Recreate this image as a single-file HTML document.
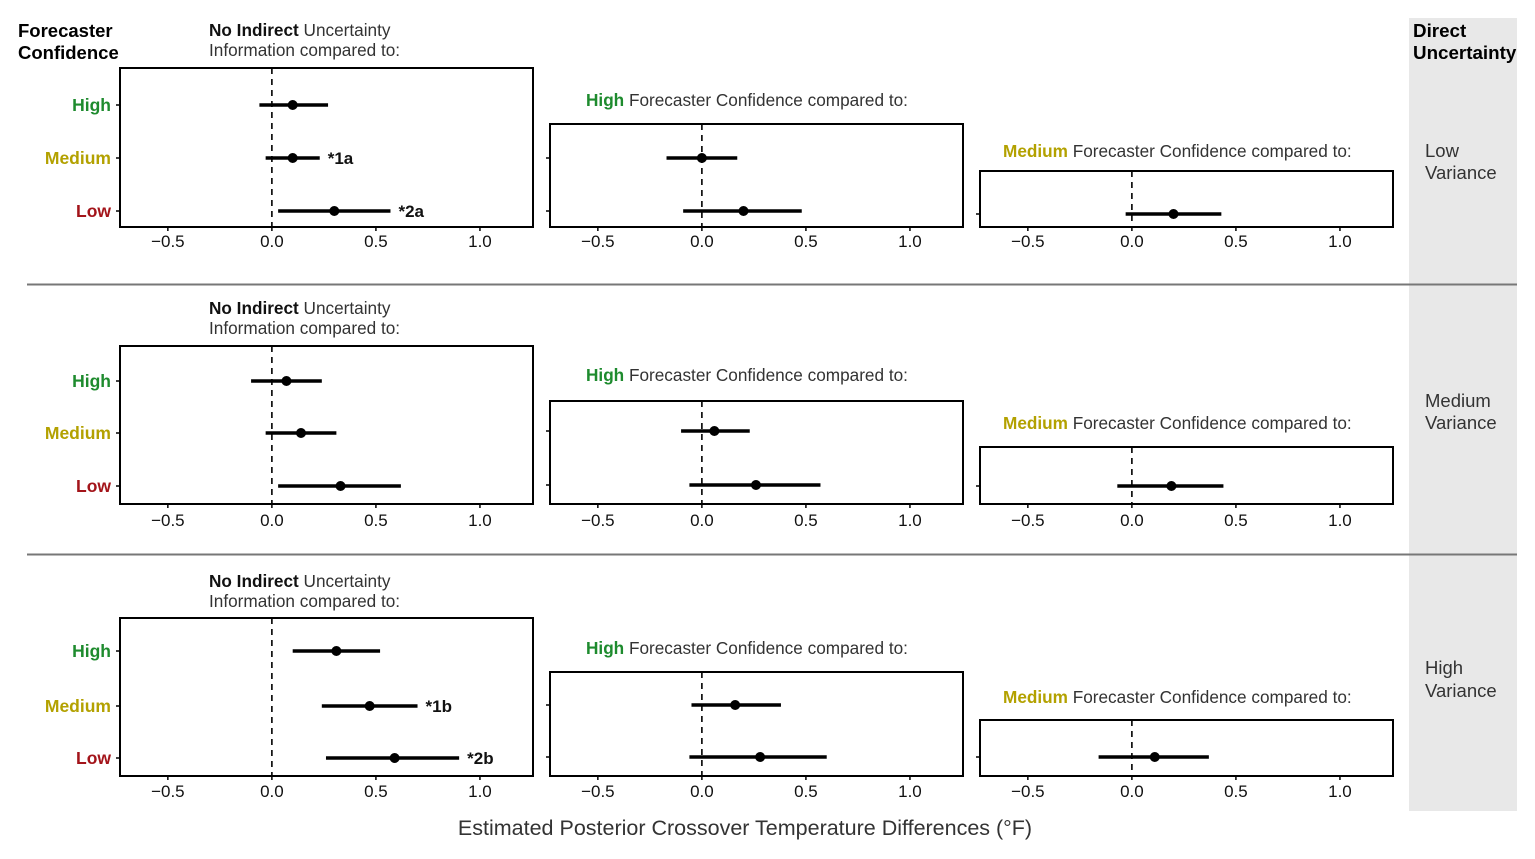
<!DOCTYPE html>
<html><head><meta charset="utf-8"><style>
body{margin:0;background:#fff;}
svg{display:block;font-family:"Liberation Sans",sans-serif;}
</style></head><body>
<svg id="chart" width="1535" height="859" viewBox="0 0 1535 859">
<rect x="1409" y="18" width="108" height="793" fill="#e8e8e8"/>
<line x1="27" y1="284.5" x2="1517" y2="284.5" stroke="#777" stroke-width="2"/>
<line x1="27" y1="554.5" x2="1517" y2="554.5" stroke="#777" stroke-width="2"/>
<text x="18" y="37" font-size="18.5" font-weight="bold">Forecaster</text>
<text x="18" y="59" font-size="18.5" font-weight="bold">Confidence</text>
<text x="1413" y="37" font-size="18.8" font-weight="bold">Direct</text>
<text x="1413" y="59" font-size="18.8" font-weight="bold">Uncertainty</text>
<text x="1425" y="157" font-size="18.5" fill="#333">Low</text>
<text x="1425" y="179" font-size="18.5" fill="#333">Variance</text>
<text x="1425" y="407" font-size="18.5" fill="#333">Medium</text>
<text x="1425" y="429" font-size="18.5" fill="#333">Variance</text>
<text x="1425" y="674" font-size="18.5" fill="#333">High</text>
<text x="1425" y="697" font-size="18.5" fill="#333">Variance</text>
<text x="745" y="835" font-size="21.5" fill="#333" text-anchor="middle">Estimated Posterior Crossover Temperature Differences (°F)</text>
</svg>
<script>
const ticks=[-0.5,0.0,0.5,1.0];
const tickLabels=["\u22120.5","0.0","0.5","1.0"];
const rowLabels=["High","Medium","Low"];
// estimates, lower, upper per panel (row-major: variance row, panel A/B/C)
const r1aEst=[0.10,0.10,0.30], r1aLo=[-0.06,-0.03,0.03], r1aHi=[0.27,0.23,0.57];
const r1bEst=[0.00,0.20], r1bLo=[-0.17,-0.09], r1bHi=[0.17,0.48];
const r1cEst=[0.20], r1cLo=[-0.03], r1cHi=[0.43];
const r2aEst=[0.07,0.14,0.33], r2aLo=[-0.10,-0.03,0.03], r2aHi=[0.24,0.31,0.62];
const r2bEst=[0.06,0.26], r2bLo=[-0.10,-0.06], r2bHi=[0.23,0.57];
const r2cEst=[0.19], r2cLo=[-0.07], r2cHi=[0.44];
const r3aEst=[0.31,0.47,0.59], r3aLo=[0.10,0.24,0.26], r3aHi=[0.52,0.70,0.90];
const r3bEst=[0.16,0.28], r3bLo=[-0.05,-0.06], r3bHi=[0.38,0.60];
const r3cEst=[0.11], r3cLo=[-0.16], r3cHi=[0.37];
const r1Notes=["","*1a","*2a"], r3Notes=["","*1b","*2b"];

const svg=document.getElementById('chart');
const NS="http://www.w3.org/2000/svg";
function mk(t,a){const e=document.createElementNS(NS,t);for(const k in a)e.setAttribute(k,a[k]);svg.appendChild(e);return e;}
const colors={High:"#1e8b2e",Medium:"#b3a100",Low:"#a3141a"};
const DMIN=-0.73,DMAX=1.255,W=413;

function panel(left,top,bottom,rowYs,est,lo,hi,labels,notes,tickY){
  const x=v=>left+(v-DMIN)/(DMAX-DMIN)*W;
  let e=mk('rect',{x:left,y:top,width:W,height:bottom-top,fill:'none',stroke:'#000','stroke-width':2});
  
  
  e=mk('line',{x1:x(0),y1:top,x2:x(0),y2:bottom,stroke:'#000','stroke-width':1.6,'stroke-dasharray':'6,5'});
  
  
  ticks.forEach((t,i)=>{
    let l=mk('line',{x1:x(t),y1:bottom,x2:x(t),y2:bottom+4,stroke:'#000','stroke-width':1.5});
    
    
    let tx=mk('text',{x:x(t),y:tickY,'font-size':17,'text-anchor':'middle',fill:'#111'});
    tx.textContent=tickLabels[i];
    
    
  });
  est.forEach((v,i)=>{
    const y=rowYs[i];
    let t=mk('line',{x1:left-4,y1:y,x2:left,y2:y,stroke:'#000','stroke-width':1.5});
    
    
    if(labels){
      let lb=mk('text',{x:left-9,y:y+6,'font-size':17.5,'font-weight':'bold','text-anchor':'end',fill:colors[labels[i]]});
      lb.textContent=labels[i];
      
      
    }
    let ci=mk('line',{x1:x(lo[i]),y1:y,x2:x(hi[i]),y2:y,stroke:'#000','stroke-width':3.5});
    
    
    let p=mk('circle',{cx:x(v),cy:y,r:5,fill:'#000'});
    
    
    if(notes&&notes[i]){
      let n=mk('text',{x:x(hi[i])+8,y:y+6,'font-size':17,'font-weight':'bold',fill:'#111'});
      n.textContent=notes[i];
      
      
    }
  });
}
function title(x,y,bold,rest,col){
  const t=mk('text',{x:x,y:y,'font-size':17.2,fill:'#333'});
  
  
  const b=document.createElementNS(NS,'tspan');b.setAttribute('font-weight','bold');b.setAttribute('fill',col);b.textContent=bold;t.appendChild(b);
  const r=document.createElementNS(NS,'tspan');r.textContent=rest;t.appendChild(r);
}
const rowsDef=[
 {aTop:68,bot:227,ys:[105,158,211],bTop:124,bYs:[158,211],cTop:171,cY:[214],tick:247,t1:36,tB:106,tC:157,d:[r1aEst,r1aLo,r1aHi,r1bEst,r1bLo,r1bHi,r1cEst,r1cLo,r1cHi],notes:r1Notes},
 {aTop:346,bot:504,ys:[381,433,486],bTop:401,bYs:[431,485],cTop:447,cY:[486],tick:526,t1:314,tB:381,tC:429,d:[r2aEst,r2aLo,r2aHi,r2bEst,r2bLo,r2bHi,r2cEst,r2cLo,r2cHi],notes:null},
 {aTop:618,bot:776,ys:[651,706,758],bTop:672,bYs:[705,757],cTop:720,cY:[757],tick:797,t1:587,tB:654,tC:703,d:[r3aEst,r3aLo,r3aHi,r3bEst,r3bLo,r3bHi,r3cEst,r3cLo,r3cHi],notes:r3Notes}
];
rowsDef.forEach(r=>{
  title(209,r.t1,"No Indirect"," Uncertainty","#111");
  let t=mk('text',{x:209,y:r.t1+20,'font-size':17.2,fill:'#333'});t.textContent="Information compared to:";
  
  
  title(586,r.tB,"High"," Forecaster Confidence compared to:","#1e8b2e");
  title(1003,r.tC,"Medium"," Forecaster Confidence compared to:","#b3a100");
  panel(120,r.aTop,r.bot,r.ys,r.d[0],r.d[1],r.d[2],rowLabels,r.notes,r.tick);
  panel(550,r.bTop,r.bot,r.bYs,r.d[3],r.d[4],r.d[5],null,null,r.tick);
  panel(980,r.cTop,r.bot,r.cY,r.d[6],r.d[7],r.d[8],null,null,r.tick);
});
</script>
</body></html>
